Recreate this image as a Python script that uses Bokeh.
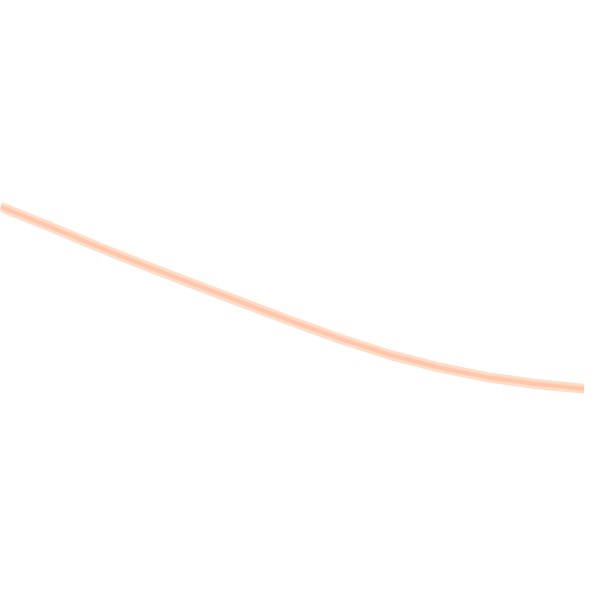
from bokeh.plotting import figure
from bokeh.models import Range1d
from bokeh.embed import file_html
from bokeh.resources import INLINE

# values (x, y in the reference's pixel frame, y downward)
xs = [0, 50, 100, 150, 200, 250, 300, 350, 400, 450, 500, 550, 600]
ys = [212, 232, 253, 273, 292, 311, 330, 348, 364, 377, 387, 394, 399]

p = figure(width=584, height=584, output_backend="svg", toolbar_location=None,
           x_range=Range1d(0, 600), y_range=Range1d(600, 0),
           min_border=0, min_border_left=0, min_border_right=0,
           min_border_top=0, min_border_bottom=0)
p.axis.visible = False
p.grid.visible = False
p.outline_line_color = None
p.background_fill_color = "white"
p.border_fill_color = "white"

p.line(xs, ys, line_width=10, line_color="#FFDCC6", line_alpha=1.0, line_join="round")
p.line(xs, ys, line_width=4, line_color="#FFC3A8", line_alpha=0.9, line_join="round")

open("out.html", "w").write(file_html(p, INLINE))
